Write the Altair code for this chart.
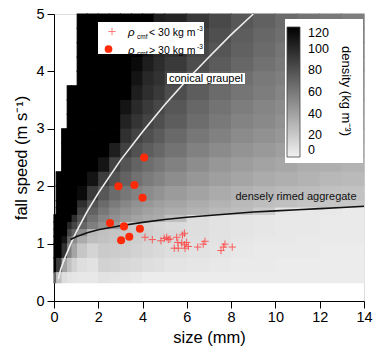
import altair as alt
import pandas as pd

# ---------------- data ----------------
size_edges = [0, 0.1, 0.35, 0.6, 0.8, 1.05, 1.5, 2, 2.5, 3, 3.5, 4, 4.5, 5,
              6, 7, 8, 9, 10, 11, 12, 13, 14]
speed_edges = [5.0, 4.75, 4.5, 4.25, 4.0, 3.75, 3.5, 3.25, 3.0, 2.75, 2.5, 2.25,
               2.0, 1.75, 1.625, 1.5, 1.375, 1.25, 1.125, 1.0, 0.75, 0.5, 0.32]
N = None
density_rows = [
    [N, N, N, N, N, 120, 120, 120, 120, 120, 120, 120, 105, 102, 92, 84, 77, 72, 67, 63, 60, 57],
    [N, N, N, N, N, 120, 120, 120, 120, 120, 120, 110, 102, 97, 88, 81, 74, 69, 65, 61, 58, 55],
    [N, N, N, N, N, 120, 120, 120, 120, 120, 120, 108, 100, 95, 85, 78, 72, 67, 62, 59, 56, 53],
    [N, N, N, N, N, 120, 120, 120, 120, 120, 115, 105, 98, 91, 82, 75, 69, 64, 60, 57, 54, 51],
    [N, N, N, N, N, 120, 120, 120, 120, 120, 110, 100, 95, 86, 77, 70, 65, 60, 57, 53, 50, 48],
    [N, N, N, 120, 120, 120, 120, 120, 120, 120, 105, 97, 91, 82, 74, 67, 62, 58, 54, 51, 48, 46],
    [N, N, N, 120, 120, 120, 120, 120, 120, 110, 99, 91, 85, 77, 69, 63, 58, 54, 51, 48, 45, 43],
    [N, N, N, 120, 120, 120, 120, 120, 120, 103, 94, 87, 81, 74, 66, 60, 55, 52, 48, 46, 43, 41],
    [N, N, 120, 120, 120, 120, 120, 120, 120, 96, 87, 81, 75, 68, 61, 56, 51, 48, 45, 42, 40, 38],
    [N, N, 120, 120, 120, 120, 120, 120, 105, 88, 80, 74, 69, 63, 56, 51, 47, 44, 41, 39, 37, 35],
    [N, N, 120, 120, 120, 120, 120, 110, 87, 78, 71, 66, 61, 56, 50, 45, 42, 39, 37, 34, 33, 31],
    [N, 120, 120, 120, 120, 120, 110, 90, 79, 71, 64, 59, 55, 50, 45, 41, 38, 35, 33, 31, 29, 28],
    [N, 120, 120, 120, 120, 115, 91, 77, 67, 61, 55, 51, 47, 43, 39, 35, 32, 30, 28, 27, 25, 24],
    [N, 120, 120, 120, 120, 97, 79, 67, 59, 53, 48, 45, 41, 38, 34, 31, 28, 26, 25, 23, 22, 21],
    [N, 120, 120, 120, 120, 88, 72, 61, 53, 48, 44, 40, 37, 34, 31, 28, 26, 20, 6, 5, 5, 4],
    [120, 120, 120, 120, 97, 79, 64, 54, 48, 43, 39, 36, 34, 25, 10, 8, 7, 6, 5, 5, 4, 4],
    [120, 120, 120, 100, 86, 70, 57, 48, 42, 20, 18, 16, 14, 12, 10, 8, 7, 6, 5, 5, 4, 4],
    [120, 120, 120, 85, 70, 50, 28, 25, 23, 21, 19, 17, 15, 13, 10, 8, 7, 6, 5, 5, 4, 4],
    [120, 120, 110, 70, 50, 35, 26, 24, 22, 20, 18, 16, 14, 12, 9, 8, 6, 5, 5, 4, 4, 4],
    [120, 120, 95, 55, 38, 22, 15, 20, 19, 18, 16, 14, 12, 10, 8, 7, 5, 4, 4, 4, 3, 3],
    [120, 90, 40, 25, 16, 10, 8, 16, 15, 13, 12, 10, 9, 7, 6, 5, 4, 4, 3, 3, 3, 3],
    [70, 25, 10, 7, 6, 5, 5, 8, 7, 6, 5, 3, 3, 3, 3, 3, 3, 3, 3, 3, 3, 3],
]

graupel_size = [0.2, 0.3, 0.5, 0.75, 1, 1.5, 2, 3, 4, 5, 6, 7, 8, 9]
graupel_speed = [0.38, 0.55, 0.76, 0.99, 1.2, 1.56, 1.88, 2.45, 2.95, 3.42, 3.85, 4.25, 4.64, 5.0]
aggregate_size = [0.75, 1, 1.5, 2, 3, 4, 5, 6, 7, 8, 9, 10, 11, 12, 13, 14]
aggregate_speed = [1.07, 1.12, 1.19, 1.24, 1.31, 1.37, 1.42, 1.46, 1.49, 1.52, 1.55, 1.57,
                   1.59, 1.61, 1.63, 1.65]

dense_size = [4.07, 2.91, 3.63, 4.00, 2.53, 3.16, 3.88, 3.03, 3.40]
dense_speed = [2.50, 2.00, 2.02, 1.80, 1.36, 1.30, 1.26, 1.06, 1.12]

light_size = [4.11, 4.44, 4.83, 4.98, 5.09, 5.16, 5.24, 5.54, 5.59, 5.89, 5.80, 5.77, 5.89,
              5.99, 5.43, 5.61, 5.92, 6.07, 6.49, 6.74, 6.82, 7.54, 7.65, 7.72, 8.05]
light_speed = [1.11, 1.07, 1.05, 1.09, 1.11, 1.07, 1.08, 1.11, 1.02, 1.18, 1.15, 1.01, 0.98,
               1.02, 0.92, 0.92, 0.92, 0.95, 0.94, 0.99, 1.04, 0.88, 0.94, 0.99, 0.94]

density_ticks = [0, 20, 40, 60, 80, 100, 120]
size_ticks = [0, 2, 4, 6, 8, 10, 12, 14]
speed_ticks = [0, 1, 2, 3, 4, 5]

# ---------------- tables ----------------
cells = []
for i, row in enumerate(density_rows):
    for j, val in enumerate(row):
        if val is None:
            continue
        cells.append({"d0": size_edges[j], "d1": size_edges[j + 1],
                      "v0": speed_edges[i + 1], "v1": speed_edges[i],
                      "rho": val, "rho_edge": val})
cells = pd.DataFrame(cells)
graupel = pd.DataFrame({"size": graupel_size, "speed": graupel_speed})
aggregate = pd.DataFrame({"size": aggregate_size, "speed": aggregate_speed})
dense = pd.DataFrame({"size": dense_size, "speed": dense_speed})
light = pd.DataFrame({"size": light_size, "speed": light_speed})

FONT = "Liberation Sans"
xs = alt.Scale(domain=[0, 14], nice=False, zero=False)
ys = alt.Scale(domain=[0, 5], nice=False, zero=False)
xaxis = alt.Axis(values=size_ticks, title="size (mm)", grid=False, tickSize=7,
                 labelPadding=2, titlePadding=6, labelFontSize=14.5, titleFontSize=16.5,
                 labelFont=FONT, titleFont=FONT, titleFontWeight="normal",
                 domainColor="black", tickColor="black", labelColor="black",
                 titleColor="black", labelFlush=False)
yaxis = alt.Axis(values=speed_ticks, title="fall speed (m s⁻¹)", grid=False, tickSize=7,
                 labelPadding=3, titlePadding=6, labelFontSize=14.5, titleFontSize=16.5,
                 labelFont=FONT, titleFont=FONT, titleFontWeight="normal",
                 domainColor="black", tickColor="black", labelColor="black",
                 titleColor="black", labelFlush=False)

gray = alt.Scale(domain=[0, 120], range=["#f2f2f2", "#000000"], interpolate="rgb", clamp=True)
gray_edge = alt.Scale(domain=[0, 120.5], range=["#f2f2f2", "#000000"], interpolate="rgb",
                      clamp=True)

# outline layer underneath: hides the hairline seams between adjacent cells
heat_under = alt.Chart(cells).mark_rect(filled=False, strokeWidth=1.2).encode(
    x=alt.X("d0:Q", scale=xs, axis=xaxis),
    x2="d1:Q",
    y=alt.Y("v0:Q", scale=ys, axis=yaxis),
    y2="v1:Q",
    stroke=alt.Stroke("rho_edge:Q", scale=gray_edge, legend=None),
)

heat = alt.Chart(cells).mark_rect().encode(
    x=alt.X("d0:Q", scale=xs, axis=xaxis),
    x2="d1:Q",
    y=alt.Y("v0:Q", scale=ys, axis=yaxis),
    y2="v1:Q",
    color=alt.Color("rho:Q", scale=gray, legend=alt.Legend(
        type="gradient", title=None, orient="none", legendX=229, legendY=9,
        direction="vertical", gradientLength=130, gradientThickness=13,
        labelFontSize=12.5, labelFont=FONT, labelColor="black", labelOffset=8,
        values=density_ticks, padding=4,
        gradientStrokeColor="#444", gradientStrokeWidth=0.8)),
)

def xq(f):
    return alt.X(f, type="quantitative", scale=xs, axis=xaxis)

def yq(f):
    return alt.Y(f, type="quantitative", scale=ys, axis=yaxis)

g_line = alt.Chart(graupel).mark_line(color="#eeeeee", strokeWidth=1.6).encode(
    x=xq("size"), y=yq("speed"))
a_line = alt.Chart(aggregate).mark_line(color="#111111", strokeWidth=1.6).encode(
    x=xq("size"), y=yq("speed"))

light_pts = alt.Chart(light).mark_point(
    shape="M-1,0L1,0M0,-1L0,1", filled=False, color="#ff4545", size=55,
    strokeWidth=1, opacity=0.85).encode(x=xq("size"), y=yq("speed"))
dense_pts = alt.Chart(dense).mark_circle(color="#ff2a08", size=65, opacity=1).encode(
    x=xq("size"), y=yq("speed"))

one = pd.DataFrame({"k": [0]})

# colour-bar box and title
cb_box = alt.Chart(one).mark_rect(color="white").encode(
    x=alt.value(231), x2=alt.value(309), y=alt.value(5), y2=alt.value(149))
cb_title = alt.Chart(one).mark_text(text="density (kg m⁻³)", font=FONT, fontSize=13,
                                    color="black", align="center", baseline="middle",
                                    angle=90).encode(x=alt.value(292), y=alt.value(77))

# curve labels
lab_box = alt.Chart(one).mark_rect(color="white").encode(
    x=alt.value(113), x2=alt.value(191), y=alt.value(59), y2=alt.value(70))
lab_g = alt.Chart(one).mark_text(text="conical graupel", font=FONT, fontSize=11,
                                 color="black", align="center", baseline="middle").encode(
    x=alt.value(152), y=alt.value(65))
lab_a = alt.Chart(one).mark_text(text="densely rimed aggregate", font=FONT, fontSize=11,
                                 color="#111", align="center", baseline="middle").encode(
    x=alt.value(242), y=alt.value(183))

# manual point legend
leg_box = alt.Chart(one).mark_rect(color="white").encode(
    x=alt.value(44), x2=alt.value(150), y=alt.value(8), y2=alt.value(40))
leg_cross = alt.Chart(one).mark_point(shape="M-1,0L1,0M0,-1L0,1", filled=False,
                                      color="#ff4545", size=55, strokeWidth=1).encode(
    x=alt.value(58), y=alt.value(17.5))
leg_dot = alt.Chart(one).mark_circle(color="#ff2a08", size=60, opacity=1).encode(
    x=alt.value(54.5), y=alt.value(35))

def txt(s, x, y, size=10.5, italic=False):
    return alt.Chart(one).mark_text(text=s, font=FONT, fontSize=size, color="black",
                                    align="left", baseline="alphabetic",
                                    fontStyle="italic" if italic else "normal").encode(
        x=alt.value(x), y=alt.value(y))

legend_texts = []
for dy, sym in [(0, "<"), (17.5, ">")]:
    legend_texts += [
        txt("ρ", 74, 22 + dy, 11.5, italic=True),
        txt("cmf", 83, 24.5 + dy, 6.5),
        txt(sym + " 30 kg m", 95, 22 + dy, 10.5),
        txt("-3", 143, 17 + dy, 6.5),
    ]

chart = alt.layer(
    heat_under, heat, g_line, a_line, light_pts, dense_pts, lab_box, lab_g, lab_a,
    leg_box, leg_cross, leg_dot, cb_box, cb_title, *legend_texts
).resolve_legend(
    color="independent", stroke="independent"
).properties(
    width=310, height=287,
    padding={"left": 54, "top": 14, "right": 9, "bottom": 57},
    autosize=alt.AutoSizeParams(type="none"),
).configure_view(stroke=None).configure(background="white")

chart.save("out.html", embed_options={"renderer": "svg", "actions": False})
